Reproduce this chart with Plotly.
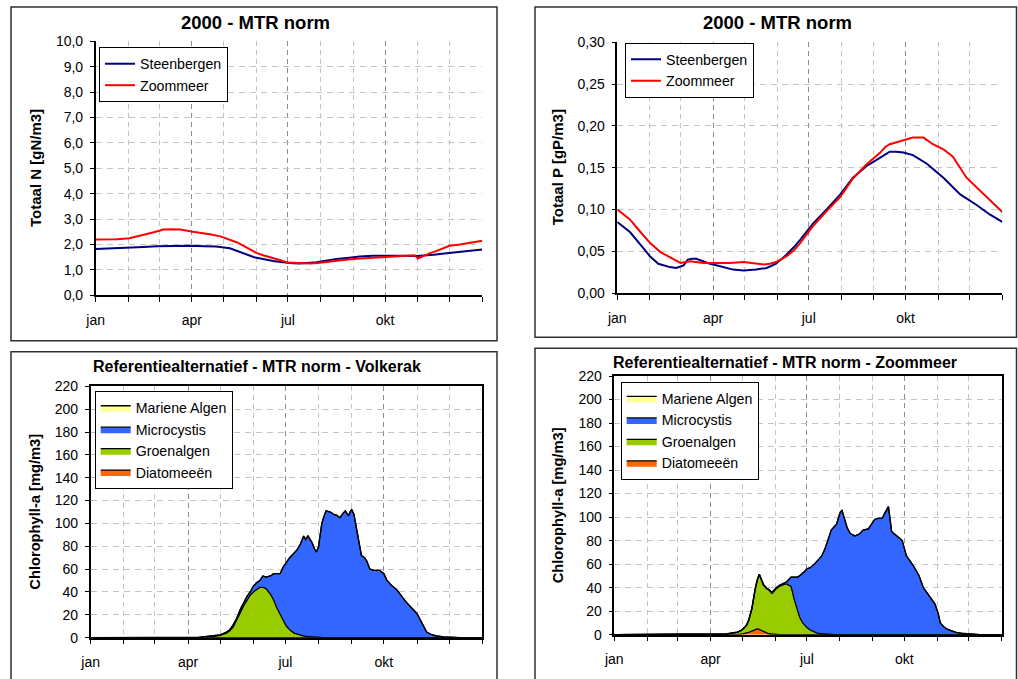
import plotly.graph_objects as go

W, H = 1018, 679

# ---------------- data ----------------
month_major = [0, 91, 182, 274, 366]
month_major_text = ["jan", "apr", "jul", "okt", ""]
month_minor = [31, 60, 121, 152, 213, 244, 305, 335]

# Totaal N
stb_n_days = [0, 15, 29, 45, 58, 75, 90, 103, 114, 127, 135, 143, 150, 156, 162, 168, 175, 181, 187, 193, 200, 209, 218, 228, 240, 250, 262, 275, 290, 304, 312, 320, 330, 342, 354, 366]
stb_n = [1.82, 1.84, 1.87, 1.90, 1.93, 1.95, 1.95, 1.93, 1.92, 1.85, 1.72, 1.60, 1.50, 1.45, 1.39, 1.35, 1.31, 1.27, 1.26, 1.25, 1.27, 1.30, 1.36, 1.43, 1.48, 1.53, 1.56, 1.57, 1.56, 1.55, 1.57, 1.60, 1.65, 1.70, 1.75, 1.80]
zm_n_days = [0, 20, 32, 40, 48, 55, 61, 64, 72, 80, 92, 100, 108, 118, 127, 134, 140, 146, 152, 160, 168, 175, 181, 187, 193, 203, 210, 218, 228, 237, 247, 257, 270, 282, 292, 302, 305, 310, 316, 321, 326, 331, 335, 345, 353, 361, 366]
zm_n = [2.20, 2.21, 2.25, 2.32, 2.40, 2.48, 2.55, 2.59, 2.60, 2.59, 2.50, 2.46, 2.40, 2.32, 2.20, 2.08, 1.95, 1.80, 1.67, 1.56, 1.47, 1.38, 1.29, 1.28, 1.27, 1.25, 1.27, 1.30, 1.35, 1.40, 1.44, 1.47, 1.50, 1.52, 1.55, 1.58, 1.45, 1.55, 1.65, 1.72, 1.80, 1.87, 1.95, 2.00, 2.05, 2.10, 2.15]

# Totaal P
stb_p_days = [0, 6, 12, 22, 31, 39, 45, 50, 56, 63, 67, 71, 75, 82, 88, 95, 101, 110, 120, 132, 142, 151, 161, 168, 174, 186, 199, 212, 224, 237, 250, 259, 265, 272, 281, 294, 310, 326, 342, 354, 366]
stb_p = [0.085, 0.079, 0.073, 0.058, 0.044, 0.035, 0.033, 0.031, 0.030, 0.033, 0.040, 0.041, 0.041, 0.038, 0.035, 0.033, 0.031, 0.028, 0.027, 0.028, 0.030, 0.035, 0.046, 0.055, 0.064, 0.083, 0.100, 0.118, 0.138, 0.152, 0.162, 0.169, 0.169, 0.168, 0.165, 0.155, 0.138, 0.118, 0.105, 0.094, 0.085]
zm_p_days = [0, 6, 12, 22, 31, 41, 50, 60, 69, 82, 94, 107, 120, 132, 140, 145, 151, 161, 168, 174, 186, 199, 212, 224, 237, 250, 255, 259, 272, 281, 291, 300, 310, 319, 332, 345, 357, 366]
zm_p = [0.100, 0.094, 0.088, 0.073, 0.060, 0.049, 0.043, 0.036, 0.038, 0.036, 0.036, 0.036, 0.037, 0.035, 0.034, 0.035, 0.037, 0.044, 0.051, 0.060, 0.080, 0.098, 0.115, 0.137, 0.154, 0.168, 0.175, 0.178, 0.183, 0.186, 0.186, 0.178, 0.172, 0.163, 0.138, 0.122, 0.107, 0.097]

# Chlorophyll-a Volkerak
vk_days = [0, 100, 105, 115, 121, 127, 130, 133, 136, 140, 143, 146, 149, 152, 155, 158, 161, 164, 168, 171, 174, 177, 180, 183, 186, 190, 193, 196, 197, 199, 201, 203, 205, 207, 209, 211, 213, 216, 218, 220, 224, 227, 230, 233, 236, 238, 240, 241, 243, 244, 246, 248, 250, 253, 256, 258, 261, 265, 270, 274, 277, 281, 286, 290, 295, 300, 305, 309, 312, 314, 318, 323, 330, 336, 345, 366]
vk_diatom = [0] * 76
vk_groen = [0, 0, 0.5, 1, 2, 4, 6, 9, 14, 22, 28, 33, 37, 40, 42, 44, 44, 43, 38, 33, 26, 20, 15, 10, 7, 4, 3, 2, 2, 1.5, 1.2, 1, 0.8, 0.6, 0.5, 0.4, 0.3, 0.2, 0, 0, 0, 0, 0, 0, 0, 0, 0, 0, 0, 0, 0, 0, 0, 0, 0, 0, 0, 0, 0, 0, 0, 0, 0, 0, 0, 0, 0, 0, 0, 0, 0, 0, 0, 0, 0, 0]
vk_micro = [0, 0, 0.3, 0.5, 0.5, 1, 1, 2, 2, 3, 3, 3, 3, 5, 6, 6, 10, 10, 16, 23, 30, 36, 47, 56, 63, 70, 74, 80, 83, 87.5, 84.8, 88, 85.2, 82.4, 77.5, 74.6, 79.7, 99.8, 106, 111, 110, 108, 107, 105, 109, 111, 108, 107, 111, 112, 108, 97, 85, 72, 70, 67, 60, 59, 59, 56, 50, 46, 42, 37, 31, 26, 21, 14, 8, 5, 3, 1.5, 0.8, 0.3, 0, 0]
vk_marine = [0] * 76

# Chlorophyll-a Zoommeer
zm_days = [0, 100, 106, 116, 119, 122, 125, 127, 130, 133, 135, 137, 139, 141, 144, 146, 149, 151, 153, 156, 158, 161, 163, 165, 167, 170, 173, 175, 178, 180, 182, 185, 189, 191, 193, 196, 199, 201, 203, 205, 208, 210, 213, 215, 218, 220, 223, 227, 230, 232, 235, 238, 240, 243, 246, 249, 253, 256, 259, 262, 264, 267, 272, 276, 280, 283, 288, 292, 296, 300, 303, 306, 308, 311, 314, 318, 323, 330, 336, 345, 366]
zm_diatom = [0, 0, 0, 0.3, 0.5, 1, 1.5, 2, 3, 4, 5, 4.5, 3.5, 2.5, 1.5, 0.8, 0.4, 0.2, 0, 0, 0, 0, 0, 0, 0, 0, 0, 0, 0, 0, 0, 0, 0, 0, 0, 0, 0, 0, 0, 0, 0, 0, 0, 0, 0, 0, 0, 0, 0, 0, 0, 0, 0, 0, 0, 0, 0, 0, 0, 0, 0, 0, 0, 0, 0, 0, 0, 0, 0, 0, 0, 0, 0, 0, 0, 0, 0, 0, 0, 0, 0]
zm_groen = [0, 0, 0.5, 1.7, 2.5, 4, 6.5, 10, 19, 34, 41, 46.5, 43.5, 39.5, 37.5, 37.2, 34.6, 36.8, 39, 41, 42, 43, 43, 42, 41, 30, 20, 15, 10, 8, 6, 4, 2, 1.5, 1, 0.7, 0.5, 0.4, 0.3, 0.2, 0.1, 0, 0, 0, 0, 0, 0, 0, 0, 0, 0, 0, 0, 0, 0, 0, 0, 0, 0, 0, 0, 0, 0, 0, 0, 0, 0, 0, 0, 0, 0, 0, 0, 0, 0, 0, 0, 0, 0, 0, 0]
zm_micro = [0, 0, 0.1, 0.2, 0.2, 0.3, 0.4, 0.5, 0.5, 0.5, 0.5, 0.5, 0.5, 0.5, 0.5, 0.5, 1, 1, 1, 1, 1, 1, 2, 5, 8, 19, 29, 35, 42, 46, 50, 53, 58, 60.5, 63, 66.3, 72.5, 78.6, 84.7, 88.8, 91.9, 94, 103, 106, 97, 91, 86, 84, 85, 86, 89, 90, 90, 94, 98, 99, 99, 104, 109, 88, 86, 84, 80, 67, 62, 58, 50, 40, 35, 30, 26, 18, 10, 7, 5, 3.5, 2, 1, 0.5, 0.1, 0]
zm_marine = [0] * 81

# ---------------- helpers ----------------
def px(x):
    return x / W

def py(y):
    return 1 - y / H

FONT = "Liberation Sans, Arial, sans-serif"
GRID_LIGHT = "#c4c4c4"
GRID_DARK = "#8c8c8c"

fig = go.Figure()

fig.add_trace(go.Scatter(x=stb_n_days, y=stb_n, name="Steenbergen", mode="lines",
                         line=dict(color="#000080", width=2), xaxis="x", yaxis="y", legend="legend"))
fig.add_trace(go.Scatter(x=zm_n_days, y=zm_n, name="Zoommeer", mode="lines",
                         line=dict(color="#ff0000", width=2), xaxis="x", yaxis="y", legend="legend"))
fig.add_trace(go.Scatter(x=stb_p_days, y=stb_p, name="Steenbergen", mode="lines",
                         line=dict(color="#000080", width=2), xaxis="x2", yaxis="y2", legend="legend2"))
fig.add_trace(go.Scatter(x=zm_p_days, y=zm_p, name="Zoommeer", mode="lines",
                         line=dict(color="#ff0000", width=2), xaxis="x2", yaxis="y2", legend="legend2"))

area_specs = [
    ("Diatomeeën", "#ff6600"),
    ("Groenalgen", "#99cc00"),
    ("Microcystis", "#3366ff"),
    ("Mariene Algen", "#ffff99"),
]
for (days, layers, xa, ya, lg, sg) in [
    (vk_days, [vk_diatom, vk_groen, vk_micro, vk_marine], "x3", "y3", "legend3", "vk"),
    (zm_days, [zm_diatom, zm_groen, zm_micro, zm_marine], "x4", "y4", "legend4", "zm"),
]:
    for (name, col), vals in zip(area_specs, layers):
        fig.add_trace(go.Scatter(x=days, y=vals, name=name, mode="lines", stackgroup=sg,
                                 fillcolor=col, line=dict(color="black", width=1.3),
                                 xaxis=xa, yaxis=ya, legend=lg))

def xaxis(domain, anchor, boxed):
    return dict(domain=domain, anchor=anchor, range=[0, 366], tickmode="array",
                tickvals=month_major, ticktext=month_major_text,
                ticks="outside", ticklen=5, tickcolor="black", tickwidth=1,
                showline=True, linecolor="black", linewidth=1.5,
                mirror=boxed, showgrid=True, gridcolor=GRID_DARK, griddash="5px,4px", gridwidth=1,
                minor=dict(tickmode="array", tickvals=month_minor, ticks="outside", ticklen=5,
                           tickcolor="black", showgrid=True, gridcolor=GRID_LIGHT,
                           griddash="5px,4px", gridwidth=1),
                tickfont=dict(family=FONT, size=14, color="black"),
                ticklabelstandoff=6, zeroline=False, fixedrange=True, automargin=False)

def yaxis(domain, anchor, rng, dtick, fmt, boxed):
    return dict(domain=domain, anchor=anchor, range=rng, dtick=dtick, tick0=0,
                tickformat=fmt, ticks="outside", ticklen=4, tickcolor="black",
                showline=True, linecolor="black", linewidth=1.5, mirror=boxed,
                showgrid=True, gridcolor=GRID_LIGHT, griddash="6px,5px", gridwidth=1,
                tickfont=dict(family=FONT, size=14, color="black"),
                ticklabelstandoff=4, zeroline=False, fixedrange=True, automargin=False)

fig.update_layout(
    xaxis=xaxis([px(95.7), px(482.3)], "y", False),
    yaxis=yaxis([py(295.3), py(41.3)], "x", [0, 10], 1, ".1f", False),
    xaxis2=xaxis([px(617.3), px(1002.3)], "y2", False),
    yaxis2=yaxis([py(293), py(42.3)], "x2", [0, 0.30], 0.05, ".2f", False),
    xaxis3=xaxis([px(90.7), px(482.3)], "y3", True),
    yaxis3=yaxis([py(637.7), py(386.3)], "x3", [0, 220], 20, "d", True),
    xaxis4=xaxis([px(614.3), px(1001.7)], "y4", True),
    yaxis4=yaxis([py(634.7), py(376)], "x4", [0, 220], 20, "d", True),
)

def legend(x, y, order="normal"):
    return dict(x=px(x), y=py(y), xanchor="left", yanchor="top", bgcolor="white",
                bordercolor="black", borderwidth=1, traceorder=order,
                font=dict(family=FONT, size=14.2, color="black"),
                tracegroupgap=0, itemwidth=30)

fig.update_layout(
    legend=legend(99, 47),
    legend2=legend(625, 42.5),
    legend3=legend(94.7, 391, "reversed"),
    legend4=legend(620.7, 381.7, "reversed"),
)

frames = [(11, 7, 497, 340.7), (535, 7, 1016.5, 337.3), (11, 351.7, 497, 700), (535, 348.3, 1016.5, 700)]
for x0, y0, x1, y1 in frames:
    fig.add_shape(type="rect", xref="paper", yref="paper", x0=px(x0), x1=px(x1), y0=py(y1), y1=py(y0),
                  line=dict(color="#303030", width=1.5), fillcolor="rgba(0,0,0,0)", layer="below")

titles = [
    ("2000 - MTR norm", 256, 23, 18.5),
    ("2000 - MTR norm", 777.7, 23, 18.5),
    ("Referentiealternatief - MTR norm - Volkerak", 257, 366, 16),
    ("Referentiealternatief - MTR norm - Zoommeer", 784.8, 362.3, 16),
]
for t, x, y, s in titles:
    fig.add_annotation(text="<b>%s</b>" % t, x=px(x), y=py(y), xref="paper", yref="paper",
                       xanchor="center", yanchor="middle", showarrow=False,
                       font=dict(family=FONT, size=s, color="black"))

ytitles = [
    ("Totaal N [gN/m3]", 35, 168, 15),
    ("Totaal P [gP/m3]", 557.7, 167.5, 15),
    ("Chlorophyll-a [mg/m3]", 35, 511.7, 14.7),
    ("Chlorophyll-a [mg/m3]", 558.3, 505, 14.7),
]
for t, x, y, s in ytitles:
    fig.add_annotation(text="<b>%s</b>" % t, x=px(x), y=py(y), xref="paper", yref="paper",
                       xanchor="center", yanchor="middle", showarrow=False, textangle=-90,
                       font=dict(family=FONT, size=s, color="black"))

fig.update_layout(
    template="none",
    width=W, height=H, autosize=False, margin=dict(l=0, r=0, t=0, b=0, pad=0, autoexpand=False),
    paper_bgcolor="white", plot_bgcolor="white",
    separators=",.", showlegend=True,
    font=dict(family=FONT, color="black"),
)

fig.write_html("out.html", config={"displayModeBar": False, "responsive": False},
               post_script="document.body.style.margin='0';document.body.style.overflow='hidden';")
